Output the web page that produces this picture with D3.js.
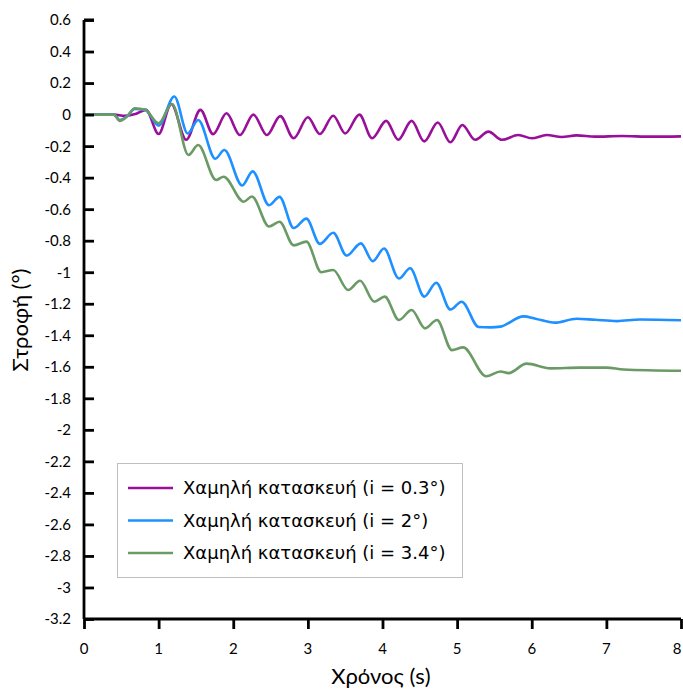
<!DOCTYPE html>
<html><head><meta charset="utf-8">
<script src="https://cdn.jsdelivr.net/npm/d3@7"></script>
<style>body{margin:0;background:#fff}svg{display:block}</style>
</head><body><div id="chart"></div>
<script>
const xTicks = [0,1,2,3,4,5,6,7,8];
const yTicks = [0.6,0.4,0.2,0,-0.2,-0.4,-0.6,-0.8,-1,-1.2,-1.4,-1.6,-1.8,-2,-2.2,-2.4,-2.6,-2.8,-3,-3.2];
const seriesNames = ["Χαμηλή κατασκευή (i = 0.3°)","Χαμηλή κατασκευή (i = 2°)","Χαμηλή κατασκευή (i = 3.4°)"];
const seriesColors = ["#990f99","#1e90ff","#6a9a66"];

const tPurple = [0,0.4,0.55,0.7,0.83,1.0,1.17,1.37,1.56,1.73,1.91,2.09,2.27,2.45,2.63,2.81,3.0,3.16,3.34,3.5,3.69,3.86,4.05,4.21,4.39,4.56,4.74,4.91,5.07,5.24,5.42,5.6,5.82,6.0,6.2,6.4,6.6,6.85,7.2,7.6,8];
const vPurple = [0,0,-0.008,0.005,0.03,-0.123,0.067,-0.16,0.03,-0.124,0.008,-0.13,0,-0.13,-0.01,-0.15,-0.017,-0.123,-0.007,-0.12,0.0,-0.15,-0.04,-0.16,-0.04,-0.17,-0.05,-0.176,-0.066,-0.16,-0.108,-0.16,-0.13,-0.15,-0.13,-0.142,-0.132,-0.14,-0.136,-0.14,-0.138];

const tBlue = [0,0.4,0.48,0.58,0.68,0.82,1.0,1.21,1.39,1.53,1.76,1.88,2.12,2.26,2.48,2.62,2.81,2.98,3.16,3.34,3.52,3.71,3.87,4.02,4.22,4.37,4.56,4.72,4.91,5.06,5.29,5.45,5.58,5.89,6.05,6.31,6.6,6.85,7.14,7.45,8];
const vBlue = [0,0,-0.035,-0.01,0.035,0.03,-0.07,0.115,-0.12,-0.034,-0.28,-0.225,-0.45,-0.36,-0.575,-0.522,-0.72,-0.66,-0.82,-0.75,-0.895,-0.817,-0.93,-0.85,-1.04,-0.975,-1.155,-1.067,-1.237,-1.187,-1.348,-1.35,-1.345,-1.28,-1.295,-1.32,-1.295,-1.302,-1.31,-1.30,-1.305];

const tGreen = [0,0.4,0.48,0.58,0.68,0.82,1.0,1.18,1.40,1.53,1.77,1.87,2.14,2.25,2.48,2.62,2.81,2.98,3.18,3.34,3.54,3.70,3.89,4.03,4.22,4.39,4.57,4.73,4.93,5.08,5.39,5.58,5.69,5.93,6.25,6.65,7.0,7.23,8];
const vGreen = [0,0,-0.04,-0.01,0.04,0.03,-0.055,0.067,-0.256,-0.193,-0.415,-0.394,-0.553,-0.52,-0.71,-0.68,-0.83,-0.806,-1.0,-0.986,-1.113,-1.054,-1.187,-1.155,-1.303,-1.24,-1.356,-1.303,-1.494,-1.477,-1.66,-1.63,-1.64,-1.58,-1.61,-1.605,-1.605,-1.617,-1.625];

const W = 683, H = 691;
const svg = d3.select("#chart").append("svg").attr("width", W).attr("height", H);
const x = d3.scaleLinear().domain([0,8]).range([84,681]);
const y = d3.scaleLinear().domain([0.6,-3.2]).range([20,619]);
const tickFont = "Lato, 'Open Sans', sans-serif";

const series = [[tPurple,vPurple],[tBlue,vBlue],[tGreen,vGreen]];
const line = d3.line().x(d=>x(d[0])).y(d=>y(d[1])).curve(d3.curveMonotoneX);
series.forEach((s,i)=>{
  const pts = s[0].map((t,j)=>[t,s[1][j]]);
  svg.append("path").attr("d", line(pts)).attr("fill","none")
    .attr("stroke", seriesColors[i]).attr("stroke-width",2.6).attr("stroke-linejoin","round");
});

// y axis: ticks inward
const yAxis = d3.axisRight(y).tickValues(yTicks).tickSize(10).tickFormat("");
const gy = svg.append("g").attr("transform",`translate(${x(0)},0)`).call(yAxis);
gy.select(".domain").attr("d",`M0,${y(0.6)}H10M0,${y(0.6)}V${y(-3.2)}`).attr("stroke","#000").attr("stroke-width",2.8).attr("fill","none");
gy.selectAll(".tick line").attr("stroke","#000").attr("stroke-width",2.8);
yTicks.forEach(v=>{
  svg.append("text").attr("x",71).attr("y",y(v)).attr("dy","0.36em").attr("text-anchor","end")
    .attr("font-family",tickFont).attr("font-size",15).attr("fill","#000").text(String(v));
});

// x axis: ticks outward
const xAxis = d3.axisBottom(x).tickValues(xTicks).tickSize(10).tickFormat("");
const gx = svg.append("g").attr("transform",`translate(0,${y(-3.2)})`).call(xAxis);
gx.select(".domain").attr("d",`M${x(0)},0H${x(8)}`).attr("stroke","#000").attr("stroke-width",2.8);
gx.selectAll(".tick line").attr("stroke","#000").attr("stroke-width",2.8);
xTicks.forEach(v=>{
  svg.append("text").attr("x",Math.min(x(v),677)).attr("y",654).attr("text-anchor","middle")
    .attr("font-family",tickFont).attr("font-size",15).attr("fill","#000").text(String(v));
});

svg.append("text").attr("x",381).attr("y",684).attr("text-anchor","middle")
  .attr("font-family",tickFont).attr("font-size",22).attr("fill","#000").text("Χρόνος (s)");
svg.append("text").attr("transform","translate(28,320) rotate(-90)").attr("text-anchor","middle")
  .attr("font-family",tickFont).attr("font-size",22).attr("fill","#000").text("Στροφή (°)");

// legend
const lg = svg.append("g");
lg.append("rect").attr("x",117.5).attr("y",463.5).attr("width",345).attr("height",114)
  .attr("fill","#fff").attr("stroke","#bfbfbf").attr("stroke-width",1);
seriesNames.forEach((n,i)=>{
  const yy = 488 + i*32.5;
  lg.append("line").attr("x1",128).attr("x2",173).attr("y1",yy).attr("y2",yy)
    .attr("stroke",seriesColors[i]).attr("stroke-width",2.6);
  lg.append("text").attr("x",183).attr("y",yy).attr("dy","0.36em")
    .attr("font-family","'DejaVu Sans', sans-serif").attr("font-size",18).attr("fill","#000").text(n);
});
</script></body></html>
